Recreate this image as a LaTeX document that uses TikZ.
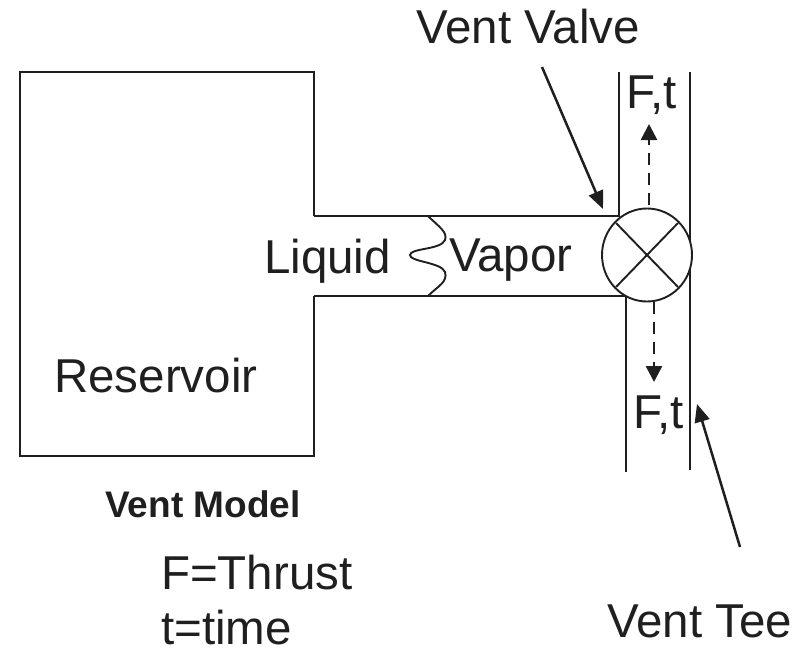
\documentclass[tikz,border=0pt]{standalone}
\usepackage{fontspec}
\setmainfont{Liberation Sans}
\usetikzlibrary{arrows.meta}
\tikzset{
 wall/.style={line width=1.9pt,black!88},
 lab/.style={inner sep=0pt,font=\fontsize{47.5}{50}\selectfont,anchor=base west,text=black!88},
 lead/.style={line width=2.5pt,black!88,-{Stealth[length=18pt,width=15pt,inset=0pt]}},
 flow/.style={line width=2.6pt,black!88,dash pattern=on 12pt off 8pt,-{Stealth[length=16pt,width=16pt,inset=0pt]}}
}
\begin{document}
\begin{tikzpicture}[x=1pt,y=-1pt]
\useasboundingbox (0,0) rectangle (802,648);
\draw[wall] (314,216) -- (314,72) -- (20,72) -- (20,456) -- (314,456) -- (314,296);
\draw[wall] (314,216) -- (620,216);
\draw[wall] (314,296) -- (626,296);
\draw[wall] (428,216) .. controls (438,226) and (448,232) .. (445,240) .. controls (441,250) and (410,248) .. (410,255) .. controls (410,262) and (441,262) .. (445,272) .. controls (448,282) and (438,286) .. (428,296);
\draw[wall] (619,72) -- (619,216);
\draw[wall] (690,72) -- (690,470);
\draw[wall] (626,296) -- (626,472);
\coordinate (c0) at (647,255);
\draw[wall,fill=white] (c0) ellipse [x radius=45pt,y radius=46.5pt];
\draw[wall] (616,223) -- (678,287);
\draw[wall] (678,223) -- (616,287);
\node[lab] (lq) at (264,273) {Liquid};
\node[lab] (vp) at (449,271) {Vapor};
\node[lab] (res) at (54,392) {Reservoir};
\node[lab] (vv) at (416,43) {Vent Valve};
\node[lab] (vt) at (607,637) {Vent Tee};
\node[lab] (ft1) at (626,108) {F,t};
\node[lab] (ft2) at (633,428) {F,t};
\node[lab] (f) at (161,589) {F=Thrust};
\node[lab] (t) at (161,644) {t=time};
\node[inner sep=0pt,anchor=base west,text=black!88,font=\bfseries\fontsize{37}{40}\selectfont] (vm) at (105,517) {Vent Model};
\coordinate (a1) at (542,67); \coordinate (a2) at (603,209);
\coordinate (b1) at (740,547); \coordinate (b2) at (697,404);
\draw[lead] (a1) -- (a2);
\draw[lead] (b1) -- (b2);
\coordinate (c1) at (649,205); \coordinate (c2) at (649,124);
\coordinate (d1) at (654,302); \coordinate (d2) at (654,382);
\draw[flow] (c1) -- (c2);
\draw[flow] (d1) -- (d2);
\end{tikzpicture}
\end{document}
